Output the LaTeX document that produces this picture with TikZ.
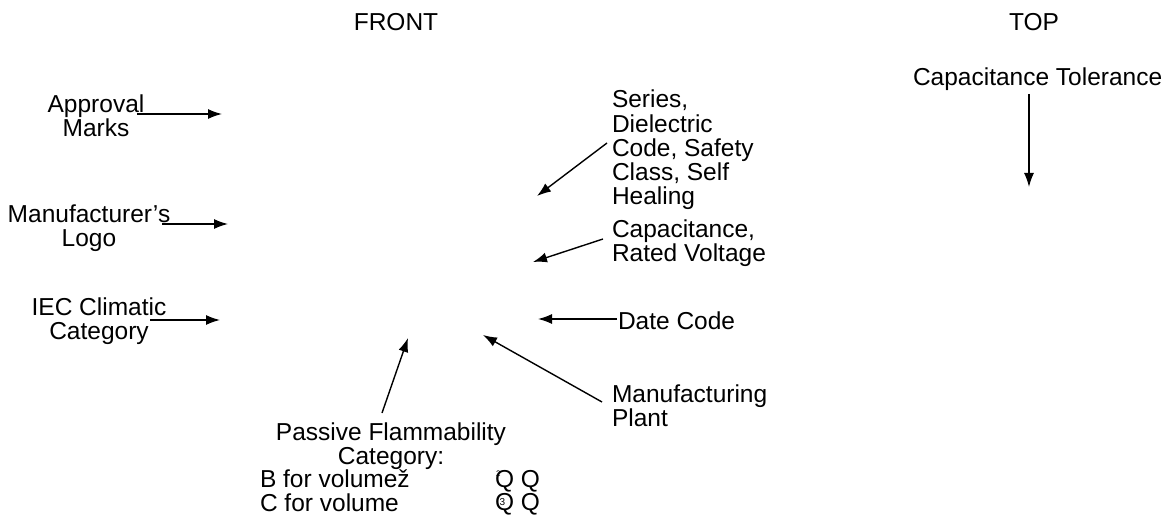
\documentclass[tikz,border=0pt]{standalone}
\usepackage{fontspec}
\setmainfont{Liberation Sans}
\usetikzlibrary{arrows.meta}
\begin{document}
\begin{tikzpicture}[x=1pt,y=-1pt,
  lbl/.style={inner sep=0pt,outer sep=0pt,font=\fontsize{24.5}{23.8}\selectfont},
  lblc/.style={lbl,align=center,anchor=north},
  lbll/.style={lbl,align=left,anchor=north west},
  arr/.style={line width=1.4pt,-{Latex[length=14pt,width=10pt]}}]
\useasboundingbox (0,0) rectangle (1168,516);
% headings
\node[lblc] (front) at (396,13) {FRONT};
\node[lblc] (top) at (1034,13) {TOP};
\node[lbll] (captol) at (913,68) {Capacitance Tolerance};
% left labels
\node[lblc] (approval) at (96,95) {Approval\\Marks};
\node[lblc] (logo) at (89,205) {Manufacturer’s\\Logo};
\node[lblc] (iec) at (99,298) {IEC Climatic\\Category};
% right labels
\node[lbll,font=\fontsize{24.5}{24.3}\selectfont] (series) at (612,90) {Series,\\Dielectric\\Code, Safety\\Class, Self\\Healing};
\node[lbll] (cap) at (612,220) {Capacitance,\\Rated Voltage};
\node[lbll] (date) at (618,312) {Date Code};
\node[lbll] (plant) at (612,385) {Manufacturing\\Plant};
% bottom
\node[lblc] (passive) at (391,423) {Passive Flammability\\Category:};
\node[lbll] (vol) at (260,470) {B for volumež\\C for volume};
\node[lbll] (qq) at (495,470) {\rlap{\hspace{1pt}\raisebox{11pt}{\fontsize{8}{8}\selectfont 2}}Q Q\\\rlap{\hspace{4.5pt}\raisebox{5pt}{\fontsize{10}{10}\selectfont 3}}Q Q};
% coordinates for arrow ends
\coordinate (a1s) at (137,114);  \coordinate (a1e) at (222,114);
\coordinate (a2s) at (162,224);  \coordinate (a2e) at (228,224);
\coordinate (a3s) at (150,320);  \coordinate (a3e) at (220,320);
\coordinate (s1s) at (607,143);  \coordinate (s1e) at (537,196);
\coordinate (c1s) at (603,239);  \coordinate (c1e) at (533,262);
\coordinate (d1s) at (617,319);  \coordinate (d1e) at (538,319);
\coordinate (p1s) at (602,402);  \coordinate (p1e) at (483,335);
\coordinate (f1s) at (382,413);  \coordinate (f1e) at (408,338);
\coordinate (t1s) at (1029,94);  \coordinate (t1e) at (1029,187);
% arrows
\draw[arr] (a1s) -- (a1e);
\draw[arr] (a2s) -- (a2e);
\draw[arr] (a3s) -- (a3e);
\draw[arr] (s1s) -- (s1e);
\draw[arr] (c1s) -- (c1e);
\draw[arr] (d1s) -- (d1e);
\draw[arr] (p1s) -- (p1e);
\draw[arr] (f1s) -- (f1e);
\draw[arr] (t1s) -- (t1e);
\end{tikzpicture}
\end{document}
